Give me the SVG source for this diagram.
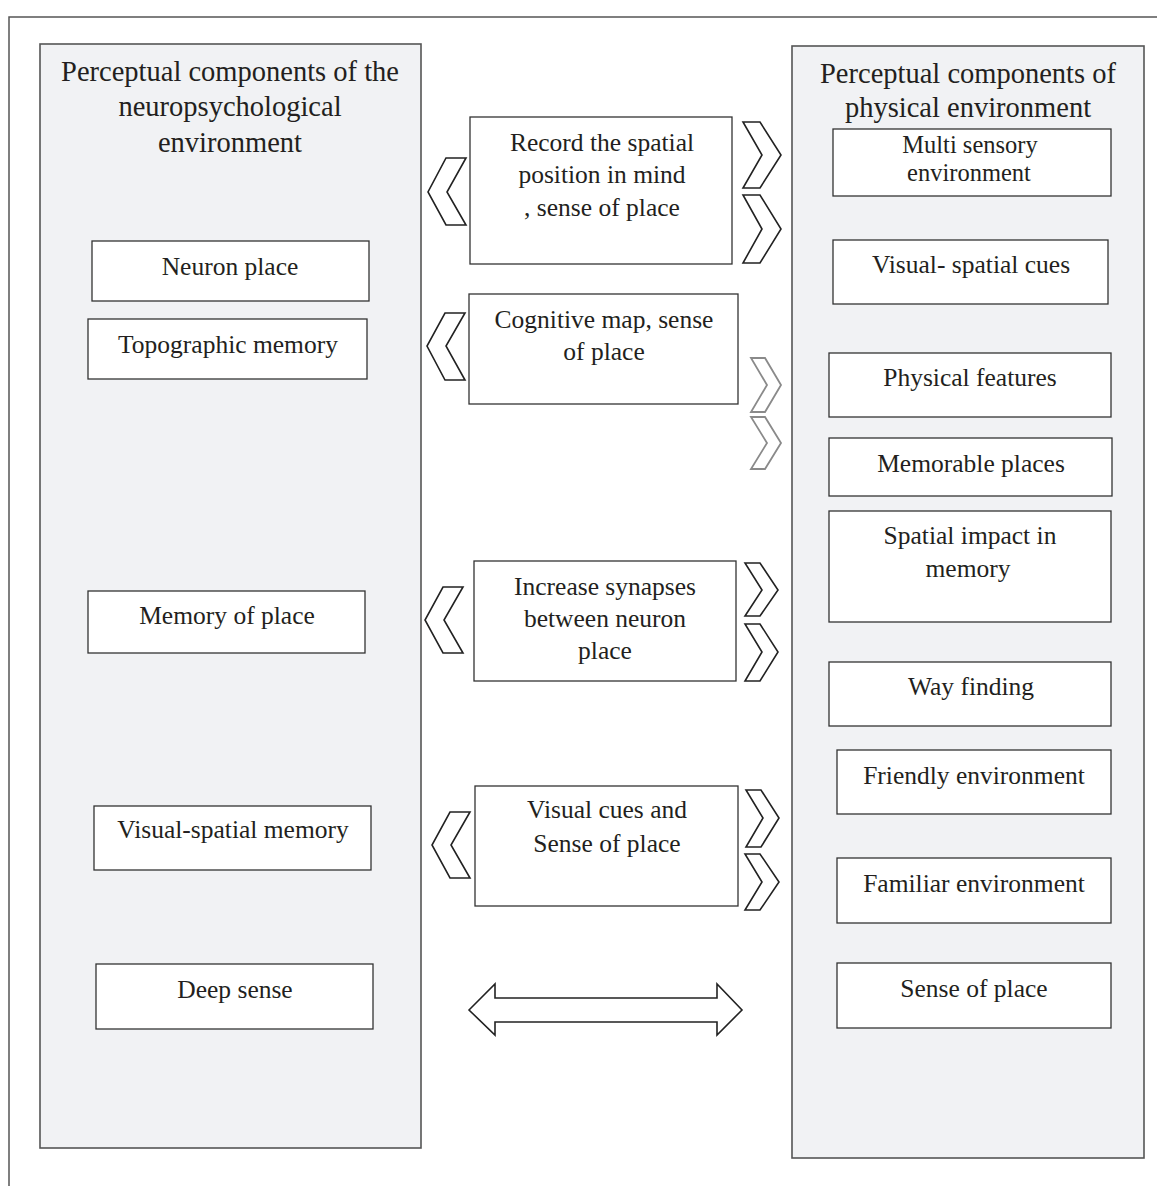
<svg xmlns="http://www.w3.org/2000/svg" width="1157" height="1186" viewBox="0 0 1157 1186">
<style>
.panel{fill:#f1f2f4;stroke:#555;stroke-width:1.6}
.box{fill:#fff;stroke:#333;stroke-width:1.3}
.t{font-family:"Liberation Serif","Times New Roman",serif;fill:#231f20;text-anchor:middle}
.title{font-size:28.5px}
.n{font-size:25.5px}
.chev{fill:#fff;stroke:#222;stroke-width:1.6;stroke-linejoin:miter}
.chev2{fill:#fff;stroke:#8a8a8a;stroke-width:1.8}
</style>
<rect x="0" y="0" width="1157" height="1186" fill="#fff"/>
<rect x="9" y="17" width="1170" height="1190" fill="none" stroke="#555" stroke-width="1.5"/>

<g id="panel-left">
<rect class="panel" x="40" y="44" width="381" height="1104"/>
<text class="t title"><tspan x="230" y="81">Perceptual components of the</tspan><tspan x="230" y="116">neuropsychological</tspan><tspan x="230" y="152">environment</tspan></text>
</g>
<g id="panel-right">
<rect class="panel" x="792" y="46" width="352" height="1112"/>
<text class="t title"><tspan x="968" y="83">Perceptual components of</tspan><tspan x="968" y="117">physical environment</tspan></text>
</g>

<g id="neuron-place"><rect class="box" x="92" y="241" width="277" height="60"/><text class="t n" x="230" y="275">Neuron place</text></g>
<g id="topographic-memory"><rect class="box" x="88" y="319" width="279" height="60"/><text class="t n" x="228" y="353">Topographic memory</text></g>
<g id="memory-of-place"><rect class="box" x="88" y="591" width="277" height="62"/><text class="t n" x="227" y="624">Memory of place</text></g>
<g id="visual-spatial-memory"><rect class="box" x="94" y="806" width="277" height="64"/><text class="t n" x="233" y="838">Visual-spatial memory</text></g>
<g id="deep-sense"><rect class="box" x="96" y="964" width="277" height="65"/><text class="t n" x="235" y="998">Deep sense</text></g>

<g id="record"><rect class="box" x="470" y="117" width="262" height="147"/><text class="t n"><tspan x="602" y="151">Record the spatial</tspan><tspan x="602" y="183">position in mind</tspan><tspan x="602" y="216">, sense of place</tspan></text></g>
<g id="cognitive-map"><rect class="box" x="469" y="294" width="269" height="110"/><text class="t n"><tspan x="604" y="328">Cognitive map, sense</tspan><tspan x="604" y="360">of place</tspan></text></g>
<g id="increase-synapses"><rect class="box" x="474" y="561" width="262" height="120"/><text class="t n"><tspan x="605" y="595">Increase synapses</tspan><tspan x="605" y="627">between neuron</tspan><tspan x="605" y="659">place</tspan></text></g>
<g id="visual-cues"><rect class="box" x="475" y="786" width="263" height="120"/><text class="t n"><tspan x="607" y="818">Visual cues and</tspan><tspan x="607" y="852">Sense of place</tspan></text></g>

<g id="multi-sensory"><rect class="box" x="833" y="129" width="278" height="67"/><text class="t" style="font-size:24.5px"><tspan x="970" y="153">Multi sensory</tspan><tspan x="969" y="181">environment</tspan></text></g>
<g id="visual-spatial-cues"><rect class="box" x="833" y="240" width="275" height="64"/><text class="t n" x="971" y="273">Visual- spatial cues</text></g>
<g id="physical-features"><rect class="box" x="829" y="353" width="282" height="64"/><text class="t n" x="970" y="386">Physical features</text></g>
<g id="memorable-places"><rect class="box" x="829" y="438" width="283" height="58"/><text class="t n" x="971" y="472">Memorable places</text></g>
<g id="spatial-impact"><rect class="box" x="829" y="511" width="282" height="111"/><text class="t n"><tspan x="970" y="544">Spatial impact in</tspan><tspan x="968" y="577">memory</tspan></text></g>
<g id="way-finding"><rect class="box" x="829" y="662" width="282" height="64"/><text class="t n" x="971" y="695">Way finding</text></g>
<g id="friendly-environment"><rect class="box" x="837" y="750" width="274" height="64"/><text class="t n" x="974" y="784">Friendly environment</text></g>
<g id="familiar-environment"><rect class="box" x="837" y="858" width="274" height="65"/><text class="t n" x="974" y="892">Familiar environment</text></g>
<g id="sense-of-place"><rect class="box" x="837" y="963" width="274" height="65"/><text class="t n" x="974" y="997">Sense of place</text></g>

<g id="connectors">
<polygon class="chev" points="466,158 446,158 428,192 446,225 466,225 447,192"/>
<polygon class="chev" points="465,313 445,313 427,346 445,380 465,380 446,346"/>
<polygon class="chev" points="463,587 443,587 425,620 443,653 463,653 444,620"/>
<polygon class="chev" points="470,812 450,812 432,845 450,878 470,878 451,845"/>
<polygon class="chev" points="743,122 760,122 781,155 760,188 743,188 762,155"/>
<polygon class="chev" points="743,195 760,195 781,229 760,263 743,263 762,229"/>
<polygon class="chev2" points="751,358 765,358 781,385 765,412 751,412 767,385"/>
<polygon class="chev2" points="751,417 765,417 781,443 765,469 751,469 767,443"/>
<polygon class="chev" points="745,563 760,563 778,590 760,616 745,616 762,590"/>
<polygon class="chev" points="745,624 760,624 778,652 760,681 745,681 762,652"/>
<polygon class="chev" points="746,790 761,790 779,818 761,847 746,847 763,818"/>
<polygon class="chev" points="745,854 760,854 779,882 760,910 745,910 762,882"/>
<polygon class="chev" points="469,1010 495,984 495,998 717,998 717,984 742,1010 717,1035 717,1022 495,1022 495,1035"/>
</g>
</svg>
